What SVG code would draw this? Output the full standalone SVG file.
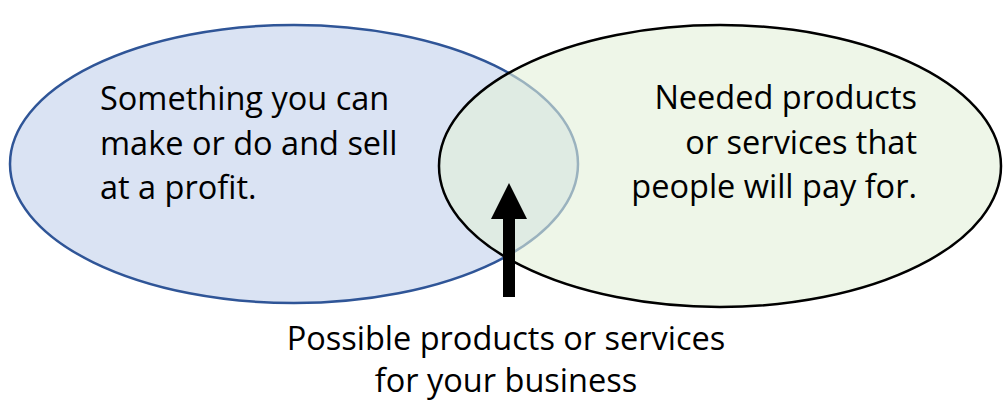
<svg xmlns="http://www.w3.org/2000/svg" width="1003" height="402" viewBox="0 0 1003 402">
<style>
.t{font-family:"Open Sans","Noto Sans","Liberation Sans",sans-serif;font-size:32.5px;fill:#000}
.l{text-anchor:start}
.r{text-anchor:end}
.m{text-anchor:middle}
</style>
<rect width="1003" height="402" fill="#fff"/>
<g id="left-circle">
<ellipse cx="294" cy="164" rx="284" ry="139" fill="#DAE3F3" stroke="#2F5597" stroke-width="2.5"/>
<text class="t l" x="100" y="110">Something you can</text>
<text class="t l" x="100" y="155">make or do and sell</text>
<text class="t l" x="100" y="199">at a profit.</text>
</g>
<g id="right-circle">
<ellipse cx="720" cy="166" rx="281" ry="141" fill="#E2F0D9" fill-opacity="0.6" stroke="#000" stroke-width="2.5"/>
<text class="t r" x="917" y="109">Needed products</text>
<text class="t r" x="917" y="154">or services that</text>
<text class="t r" x="917" y="198">people will pay for.</text>
</g>
<g id="connectors">
<path d="M503 297 V219 H491 L509 183 L527 219 H515 V297 Z" fill="#000"/>
</g>
<g id="caption">
<text class="t m" x="506" y="350">Possible products or services</text>
<text class="t m" x="506" y="392">for your business</text>
</g>
</svg>
